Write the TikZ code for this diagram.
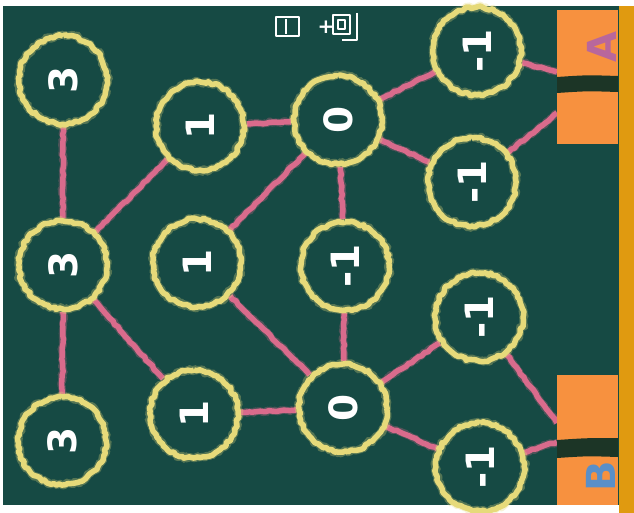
\documentclass[tikz,border=0pt]{standalone}
\usepackage{fontspec}
\setsansfont{DejaVu Sans}
\usetikzlibrary{decorations.pathmorphing,backgrounds}

\definecolor{board}{HTML}{164A44}
\definecolor{chalkyellow}{HTML}{E6DA7A}
\definecolor{chalkpink}{HTML}{D96B8C}
\definecolor{boxorange}{HTML}{F7913F}
\definecolor{edgeorange}{HTML}{E09A10}
\definecolor{bandgreen}{HTML}{1C3526}
\definecolor{labelA}{HTML}{B8679C}
\definecolor{labelB}{HTML}{5A8FC8}

\begin{document}
\begin{tikzpicture}[
		x=1pt, y=-1pt,
		val/.style={
			circle,
			draw=chalkyellow,
			line width=5.5pt,
			line join=round,
			minimum size=88pt,
			inner sep=0pt,
			fill=board,
			decorate,
			decoration={random steps, segment length=3pt, amplitude=1.3pt},
			postaction={draw=chalkyellow, line width=8pt, line join=round, opacity=0.3, decorate,
				decoration={random steps, segment length=1.5pt, amplitude=1.5pt}},
			text=white,
			font=\sffamily\bfseries\fontsize{39}{39}\selectfont,
			rotate=90
		},
		sidebox/.style={
			fill=boxorange,
			draw=none,
			minimum width=61pt,
			minimum height=134pt,
			inner sep=0pt
		},
		link/.style={
			draw=chalkpink,
			line width=5.5pt,
			line join=round,
			decorate,
			decoration={random steps, segment length=4pt, amplitude=0.8pt},
			postaction={draw=chalkpink, line width=7.5pt, line join=round, opacity=0.3, decorate,
				decoration={random steps, segment length=1.5pt, amplitude=1.2pt}}
		},
		scribble/.style={draw=white, line width=1.7pt, line join=round}
		]
		
		% board
		\useasboundingbox (0,0) rectangle (634,513);
		\begin{scope}[on background layer]
			\fill[white] (0,0) rectangle (634,513);
			\fill[board] (3,6) rectangle (620,505);
			\fill[edgeorange] (619,6) rectangle (634,513);
		\end{scope}
		
		% left column
		\node[val] (t3) at (63,80) {3};
		\node[val] (m3) at (63,265) {3};
		\node[val] (b3) at (62,441) {3};
		
		% second column
		\node[val] (t1) at (200,126) {1};
		\node[val] (m1) at (197,263) {1};
		\node[val] (b1) at (194,414) {1};
		
		% middle column
		\node[val] (t0) at (338,120) {0};
		\node[val] (mm) at (345,266) {-1};
		\node[val] (b0) at (343,408) {0};
		
		% right column
		\node[val] (ra) at (477,51) {-1};
		\node[val] (rb) at (472,182) {-1};
		\node[val] (rc) at (479,317) {-1};
		\node[val] (rd) at (480,467) {-1};
		
		% end boxes
		\node[sidebox] (boxA) at (587.5,77) {};
		\node[sidebox, minimum height=130pt] (boxB) at (587.5,440) {};
		\fill[bandgreen] (557,77) .. controls (587,75) .. (618,76)
			-- (618,92) .. controls (587,91) .. (557,93) -- cycle;
		\fill[bandgreen] (557,440) .. controls (587,438) .. (618,438)
			-- (618,457) .. controls (587,456) .. (557,458) -- cycle;
		\node[text=labelA, font=\sffamily\bfseries\fontsize{40}{40}\selectfont, rotate=90] (labA) at (602,47) {A};
		\node[text=labelB, font=\sffamily\bfseries\fontsize{40}{40}\selectfont, rotate=90] (labB) at (601,476) {B};
		\coordinate (a1) at (557,72);
		\coordinate (a2) at (557,113);
		\coordinate (b1end) at (557,423);
		\coordinate (b2end) at (557,442);
		
		% note at top
		\draw[scribble] (276,17) rectangle (299,36);
		\draw[scribble] (286,19) -- (286,34);
		\node[text=white, font=\sffamily\bfseries\fontsize{20}{20}\selectfont] (plus) at (326,27) {+};
		\draw[scribble] (333,15) rectangle (350,34);
		\draw[scribble] (338,20) rectangle (345,29);
		\draw[scribble] (357,13) -- (357,40) -- (342,40);
		
		% links
		\begin{scope}[on background layer]
			\draw[link] (t3) -- (m3);
			\draw[link] (m3) -- (b3);
			\draw[link] (m3) -- (t1);
			\draw[link] (m3) -- (b1);
			\draw[link] (t1) -- (t0);
			\draw[link] (m1) -- (t0);
			\draw[link] (m1) -- (b0);
			\draw[link] (b1) -- (b0);
			\draw[link] (t0) -- (mm);
			\draw[link] (mm) -- (b0);
			\draw[link] (t0) -- (ra);
			\draw[link] (t0) -- (rb);
			\draw[link] (b0) -- (rc);
			\draw[link] (b0) -- (rd);
			\draw[link] (ra) -- (a1);
			\draw[link] (rb) -- (a2);
			\draw[link] (rc) -- (b1end);
			\draw[link] (rd) -- (b2end);
		\end{scope}
		
	\end{tikzpicture}
\end{document}
